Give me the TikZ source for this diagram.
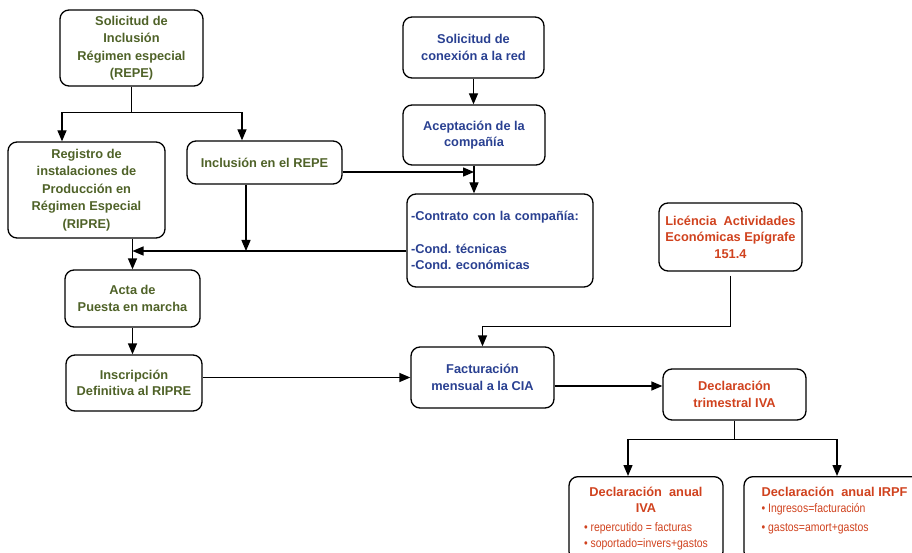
\documentclass[tikz,border=0pt]{standalone}
\usepackage{fontspec}
\setmainfont{Liberation Sans}
\newfontfamily\narrowfont[FakeStretch=0.85]{Liberation Sans}
\usetikzlibrary{positioning, calc, arrows.meta}
\definecolor{verde}{RGB}{79,98,40}
\definecolor{azul}{RGB}{41,64,145}
\definecolor{rojo}{RGB}{208,66,30}
\newcommand{\punto}[1]{{\fontsize{12.3}{16.5}\selectfont\narrowfont\mdseries\textbullet\ #1}}

\begin{document}
\begin{tikzpicture}[x=1pt,y=-1pt,
        linea/.style={line width=1.3pt},
        caja/.style={draw, linea, rounded corners=9pt, align=center, inner sep=3pt, font=\fontsize{12.8}{16.5}\selectfont\bfseries\frenchspacing},
        flecha/.style={linea, -{Triangle[length=11pt,width=9pt]}}]
        \useasboundingbox (0,0) rectangle (912,553);
        \clip (0,0) rectangle (912,553);
        %cajas verdes
        \node[caja, text=verde, minimum width=143pt, minimum height=76pt, font=\fontsize{12.8}{17.5}\selectfont\bfseries] (sreq) at (131.5,48) {Solicitud de\\Inclusión\\Régimen especial\\(REPE)};
        \node[caja, text=verde, minimum width=157pt, minimum height=96pt, font=\fontsize{12.8}{17.5}\selectfont\bfseries] (ripre) at (86.5,190) {Registro de\\instalaciones de\\Producción en\\Régimen Especial\\(RIPRE)};
        \node[caja, text=verde, minimum width=155pt, minimum height=43pt] (repe) at (264.5,162.5) {Inclusión en el REPE};
        \node[caja, text=verde, minimum width=135pt, minimum height=57pt] (acta) at (132.5,298.5) {Acta de\\Puesta en marcha};
        \node[caja, text=verde, minimum width=136pt, minimum height=56pt] (insc) at (134,383) {Inscripción\\Definitiva al RIPRE};
        %cajas azules
        \node[caja, text=azul, minimum width=141pt, minimum height=61pt] (sred) at (473.5,47.5) {Solicitud de\\conexión a la red};
        \node[caja, text=azul, minimum width=142pt, minimum height=60pt] (acep) at (474,135) {Aceptación de la\\compañía};
        \node[caja, text=azul, align=left, text width=178pt, inner xsep=4pt, minimum height=93pt] (contr) at (500,240.5) {-Contrato con la compañía:\\[16.5pt]-Cond. técnicas\\-Cond. económicas};
        \node[caja, text=azul, minimum width=143pt, minimum height=61pt] (fact) at (482.5,377.5) {Facturación\\mensual a la CIA};
        %cajas rojas
        \node[caja, text=rojo, minimum width=143pt, minimum height=68pt] (lic) at (730.5,237) {Licéncia~~Actividades\\Económicas Epígrafe\\151.4};
        \node[caja, text=rojo, minimum width=143pt, minimum height=51pt] (trim) at (734.5,394.5) {Declaración\\trimestral IVA};
        \node[caja, text=rojo, minimum width=154pt, inner ysep=8pt, anchor=north] (aiva) at (646,476) {\begin{tabular}{@{}l@{}}
            \multicolumn{1}{@{}c@{}}{Declaración~~anual}\\
            \multicolumn{1}{@{}c@{}}{IVA}\\[2pt]
            \punto{repercutido = facturas}\\
            \punto{soportado=invers+gastos}
        \end{tabular}};
        \node[caja, text=rojo, minimum width=181pt, inner ysep=8pt, anchor=north] (irpf) at (834.5,476) {\begin{tabular}{@{}l@{}}
            Declaración~~anual IRPF\\
            \punto{Ingresos=facturación}\\[2pt]
            \punto{gastos=amort+gastos}\\
            ~
        \end{tabular}};
        %flechas solicitud REPE
        \coordinate (fork1) at ($(sreq.south)+(0,26)$);
        \draw[linea] (sreq.south) -- (fork1);
        \draw[flecha] (fork1) -| ([xshift=-24.5pt]ripre.north);
        \draw[flecha] (fork1) -| ([xshift=-22.5pt]repe.north);
        %flechas conexion a la red
        \draw[flecha] (sred.south) -- (sred.south |- acep.north);
        \draw[flecha] (acep.south) -- (acep.south |- contr.north);
        \coordinate (repeout) at ([yshift=-9.5pt]repe.east);
        \draw[flecha] (repeout) -- (repeout -| acep.south);
        %linea del contrato
        \coordinate (controut) at ([yshift=-10.5pt]contr.west);
        \draw[flecha] (controut) -- (controut -| acta.north);
        \coordinate (repedown) at ([xshift=-18.5pt]repe.south);
        \draw[flecha] (repedown) -- (repedown |- controut);
        \draw[flecha] (acta.north |- ripre.south) -- (acta.north);
        \draw[flecha] (acta.south) -- (acta.south |- insc.north);
        %facturacion
        \draw[flecha] (fact.west -| insc.east) -- (fact.west);
        \draw[flecha] ([yshift=-4pt]lic.south) -- ++(0,51) -| (fact.north);
        \coordinate (factout) at ([yshift=-8.5pt]fact.east);
        \draw[flecha] (factout) -- (factout -| trim.west);
        %declaraciones anuales
        \coordinate (fork2) at ($(trim.south)+(0,19)$);
        \draw[linea] (trim.south) -- (fork2);
        \draw[flecha] (fork2) -| ([xshift=-18pt]aiva.north);
        \draw[flecha] (fork2) -| ([xshift=2.5pt]irpf.north);
\end{tikzpicture}
\end{document}
